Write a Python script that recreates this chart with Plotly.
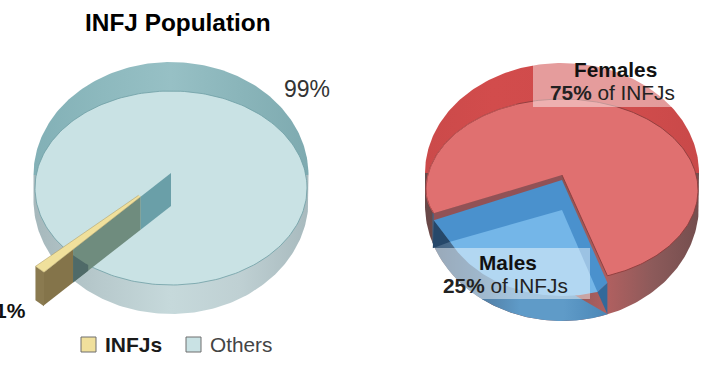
import numpy as np
import plotly.graph_objects as go

# ---- data ----
population_labels = ["INFJs", "Others"]
population_values = [1, 99]
gender_labels = ["Males", "Females"]
gender_values = [25, 75]
title_text = "INFJ Population"

FONT = "Liberation Sans"
fig = go.Figure()


def rad(d):
    return np.deg2rad(d)


def ell(cx, cy, rx, ry, a0, a1, n=160):
    t = rad(np.linspace(a0, a1, n))
    return cx + rx * np.cos(t), cy + ry * np.sin(t)


def poly(x, y, color=None, grad=None, line=None, lw=0):
    kw = {}
    if grad:
        stops = np.linspace(0, 1, len(grad))
        kw["fillgradient"] = dict(type="horizontal",
                                  colorscale=[[float(s), c] for s, c in zip(stops, grad)])
    else:
        kw["fillcolor"] = color
    fig.add_trace(go.Scatter(x=np.asarray(x).tolist(), y=np.asarray(y).tolist(), mode="lines",
                             fill="toself", hoverinfo="skip", showlegend=False,
                             line=dict(color=line or "rgba(0,0,0,0)", width=lw), **kw))


def join(*parts):
    return np.concatenate([np.atleast_1d(p) for p in parts])


# ---- left pie ----
CX, RX = 171, 137.5
slice_sweep = population_values[0] / sum(population_values) * 360
MID = 134
A_FRONT, A_BACK = MID - slice_sweep / 2, MID + slice_sweep / 2
TOP_Y, DEPTH = 173, 33
R_IN, R_CUT, R_OUT = 0.33, 1.064, 1.38

# outer silhouette bands
x, y = ell(CX, 175, RX, 113, 180, 360)
poly(x, y, grad=["#82b0b6", "#8db9be", "#97c0c5", "#8ab5ba", "#7eaab0"])
x, y = ell(CX, 200, RX, 114, 0, 180)
poly(join(CX + RX, x, CX - RX), join(175, y, 175),
     grad=["#a6b8bc", "#b8cacd", "#c6d9db", "#bfd0d3", "#a8babe"])
# floor
x, y = ell(CX, 188, 136, 97, 0, 360, 240)
poly(x, y, "#c9e2e4", line="#6f9ea4", lw=0.8)


def top_pt(a, r):
    return CX + 137 * r * np.cos(rad(a)), TOP_Y + 97 * r * np.sin(rad(a))


def wall(r0, r1, color):
    x0, y0 = top_pt(A_FRONT, r0)
    x1, y1 = top_pt(A_FRONT, r1)
    poly([x0, x1, x1, x0], [y0, y1, y1 + DEPTH, y0 + DEPTH], color)


wall(0, R_IN, "#6a9fa8")
wall(R_IN, R_CUT, "#6f8c7e")
wall(R_CUT, R_OUT, "#84744a")
# part of the wall seen through the outer band
rs = np.linspace(R_CUT, 0.9, 40)
wx, wy = top_pt(A_FRONT, rs)
wy = wy + DEPTH
ey = 188 + 97 * np.sqrt(np.clip(1 - ((wx - CX) / 136) ** 2, 0, 1))
keep = ey < wy
poly(join(wx[keep], wx[keep][::-1]), join(ey[keep], wy[keep][::-1]), "#4f6a68")
# end cap of the slice
xa, ya = top_pt(A_BACK, R_OUT)
xb, yb = top_pt(A_FRONT, R_OUT)
poly([xa, xb, xb, xa], [ya, yb, yb + DEPTH + 1, ya + DEPTH + 1], "#8a7a50")
# slice top
xc, yc = top_pt(A_FRONT, R_IN)
xd, yd = top_pt(A_BACK, R_IN)
poly([xc, xb, xa, xd], [yc, yb, ya, yd], "#f0e09c", line="#a8975e", lw=0.5)

# ---- right pie ----
CX2, RX2 = 562, 136
male_sweep = gender_values[0] / sum(gender_values) * 360
female_sweep = gender_values[1] / sum(gender_values) * 360
A_R = 70.5              # right edge of the male slice
A_L = A_R + male_sweep  # left edge of the male slice
OUT_RX, OUT_CY, OUT_RY = 137, 205, 116
FL_CY, FL_RY, FL_RY_LL = 190, 91, 70


def floor_pt(a):
    a = np.atleast_1d(a)
    t = rad(a)
    s = np.sin(t)
    c = np.cos(t)
    ry = np.where((s > 0) & (c < 0), FL_RY_LL, FL_RY)
    return CX2 + RX2 * c, FL_CY + ry * s


# back rim
x, y = ell(CX2, 173, OUT_RX, 110, 180, 360)
poly(x, y, grad=["#cb4a4a", "#d24c4c", "#cf4b4b", "#d04c4c", "#c94949"])
# whole lower wall (red, left hand part shows behind blue)
x, y = ell(CX2, OUT_CY, OUT_RX, OUT_RY, 0, 180)
poly(join(CX2 + OUT_RX, x, CX2 - OUT_RX), join(173, y, 173),
     grad=["#684848", "#704a4a", "#7a5050", "#8a5555", "#b06060", "#8c5a5a", "#744e4e"])
# blue lower wall
x, y = ell(CX2, OUT_CY, OUT_RX, OUT_RY, A_R, 161)
poly(join(x, x[-1]), join(y, y[-1] - 30), grad=["#46627f", "#4f7a9f", "#5f9bc8", "#5f9bc8", "#4a86b6"])

# medium blue slice surface
xl, yl = floor_pt(A_L)
xr, yr = floor_pt(A_R)
IN_CY, IN_RX, IN_RY = 198, 125, 98
xi, yi = ell(CX2, IN_CY, IN_RX, IN_RY, A_R + 3, A_L - 7, 100)
# dark corners
poly([xl[0], xi[-1], xl[0] - 1], [yl[0] + 7, yi[-1], yl[0] + 35], "#26486a")
poly([xi[0], xr[0], xr[0]], [yi[0], yr[0] + 7, OUT_CY + OUT_RY * np.sin(rad(A_R))], "#33699a")
# red inner wall strip
poly([CX2, xl[0], xl[0], CX2], [174, yl[0], yl[0] + 8, 181], "#915256")
poly([CX2, xl[0], xi[-1], xi[0], xr[0]], [180, yl[0] + 7, yi[-1], yi[0], yr[0] + 7], "#4a91cd")
poly(join(CX2, xi), join(210, yi), "#74b6e8")
# top red surface
x, y = floor_pt(np.linspace(A_R, A_R - female_sweep, 240))
poly(join(CX2, x), join(175, y), "#e07070", line="#8c3c3c", lw=0.9)
x, y = floor_pt(np.linspace(A_R - 180, A_R - female_sweep, 120))
fig.add_trace(go.Scatter(x=x.tolist(), y=y.tolist(), mode="lines", hoverinfo="skip", showlegend=False,
                         line=dict(color="#c85a5a", width=0.8)))

# legend swatches
fig.add_trace(go.Scatter(x=[88.5, 193.5], y=[344.5, 344.5], mode="markers", hoverinfo="skip", showlegend=False,
                         marker=dict(symbol="square", size=15, color=["#f0e09c", "#c9e2e4"],
                                     line=dict(color="#6e6e6e", width=1))))

# translucent label boxes
for bx in [(533, 55, 697, 107), (426, 248, 590, 299)]:
    fig.add_shape(type="rect", x0=bx[0], y0=bx[1], x1=bx[2], y1=bx[3], layer="above",
                  fillcolor="rgba(255,255,255,0.45)", line_width=0)


def label(x, y, text, size=20.8, color="#1a1a1a", anchor="center"):
    fig.add_annotation(x=x, y=y, text=text, showarrow=False, xanchor=anchor, yanchor="middle",
                       font=dict(family=FONT, size=size, color=color), xref="x", yref="y")


label(177.5, 22.5, f"<b>{title_text}</b>", 24.4, "#000000")
label(332, 89, f"{population_values[1]}%", 23, "#333333", "right")
label(28, 310.5, f"<b>{population_values[0]}%</b>", 21, "#111111", "right")
label(103, 344.5, f"<b>{population_labels[0]}</b>", 21, "#1a1a1a", "left")
label(208, 344.5, population_labels[1], 20.8, "#444444", "left")
label(615.5, 69, f"<b>{gender_labels[1]}</b>", 20.8, "#111111")
label(612, 92.5, f"<b>{gender_values[1]}%</b> of INFJs", 20.8, "#222222")
label(508, 262, f"<b>{gender_labels[0]}</b>", 20.8, "#111111")
label(505, 285.5, f"<b>{gender_values[0]}%</b> of INFJs", 20.8, "#222222")

fig.update_layout(width=710, height=375, margin=dict(l=0, r=0, t=0, b=0), autosize=False,
                  paper_bgcolor="white", plot_bgcolor="white", showlegend=False,
                  xaxis=dict(range=[0, 710], visible=False, fixedrange=True),
                  yaxis=dict(range=[375, 0], visible=False, fixedrange=True))
fig.write_html("out.html", config={"displayModeBar": False},
               post_script="document.body.style.margin='0';document.body.style.overflow='hidden';window.dispatchEvent(new Event('resize'));")
